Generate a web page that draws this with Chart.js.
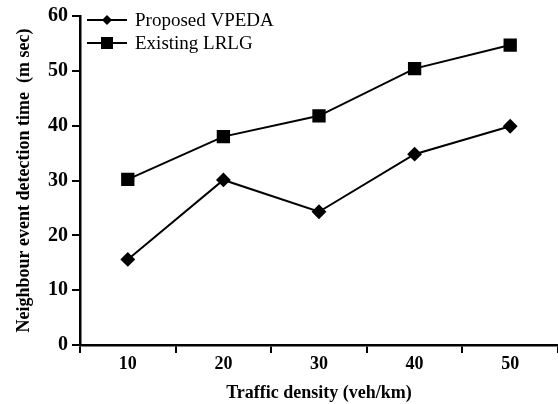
<!DOCTYPE html>
<html>
<head>
<meta charset="utf-8">
<script src="https://cdn.jsdelivr.net/npm/chart.js@4"></script>
<style>
  html, body { margin: 0; padding: 0; background: #fff; overflow: hidden; }
  #wrap { width: 558px; height: 404px; overflow: hidden; }
</style>
</head>
<body>
<div id="wrap"><canvas id="chart" width="568" height="404"></canvas></div>
<script>
const density = ["10", "20", "30", "40", "50"];
const proposedVPEDA = [15.6, 30.1, 24.3, 34.8, 39.9];
const existingLRLG = [30.2, 38.0, 41.8, 50.4, 54.7];
const yTicks = [0, 10, 20, 30, 40, 50, 60];

const serif = "'Liberation Serif', 'Times New Roman', serif";

// legend drawn as line + marker, like the original figure
const lineLegend = {
    id: "lineLegend",
    afterDraw(chart) {
        const ctx = chart.ctx;
        const left = chart.chartArea.left + 7;
        const top = chart.chartArea.top + 4;
        chart.data.datasets.forEach((ds, i) => {
            const y = top + i * 23;
            ctx.save();
            ctx.strokeStyle = "#000";
            ctx.lineWidth = 2;
            ctx.beginPath();
            ctx.moveTo(left, y);
            ctx.lineTo(left + 40, y);
            ctx.stroke();
            ctx.fillStyle = "#000";
            const cx = left + 20;
            if (ds.pointStyle === "rect") {
                ctx.fillRect(cx - 6, y - 6, 12, 12);
            } else {
                ctx.beginPath();
                ctx.moveTo(cx, y - 5);
                ctx.lineTo(cx + 5, y);
                ctx.lineTo(cx, y + 5);
                ctx.lineTo(cx - 5, y);
                ctx.closePath();
                ctx.fill();
            }
            ctx.font = "19px " + serif;
            ctx.textBaseline = "middle";
            ctx.fillText(ds.label, left + 48, y + 1);
            ctx.restore();
        });
    }
};

new Chart(document.getElementById("chart"), {
    type: "line",
    data: {
        labels: density,
        datasets: [
            {
                label: "Proposed VPEDA",
                data: proposedVPEDA,
                borderColor: "#000",
                backgroundColor: "#000",
                borderWidth: 2,
                pointStyle: "rectRot",
                pointRadius: 6,
                pointHoverRadius: 6,
                tension: 0
            },
            {
                label: "Existing LRLG",
                data: existingLRLG,
                borderColor: "#000",
                backgroundColor: "#000",
                borderWidth: 2,
                pointStyle: "rect",
                pointRadius: 8,
                pointHoverRadius: 8,
                tension: 0
            }
        ]
    },
    options: {
        responsive: false,
        animation: false,
        layout: { padding: { top: 13, right: 0, left: 0, bottom: 0 } },
        plugins: {
            legend: { display: false },
            tooltip: { enabled: false }
        },
        scales: {
            x: {
                type: "category",
                offset: true,
                grid: {
                    offset: true,
                    drawOnChartArea: false,
                    drawTicks: true,
                    tickLength: 8,
                    color: "#000",
                    lineWidth: 2
                },
                border: { color: "#000", width: 2.5 },
                ticks: {
                    color: "#000",
                    font: { family: serif, size: 18, weight: "bold" },
                    padding: 1,
                    maxRotation: 0
                },
                title: {
                    display: true,
                    text: "Traffic density (veh/km)",
                    color: "#000",
                    font: { family: serif, size: 18, weight: "bold" },
                    padding: { top: 4, bottom: 0 }
                },
                afterFit(scale) {
                    scale.height = 59;
                    scale.paddingLeft = 0;
                    scale.paddingRight = 0;
                }
            },
            y: {
                min: yTicks[0],
                max: yTicks[yTicks.length - 1],
                afterBuildTicks(scale) {
                    scale.ticks = yTicks.map(v => ({ value: v }));
                },
                grid: {
                    drawOnChartArea: false,
                    drawTicks: true,
                    tickLength: 8,
                    color: "#000",
                    lineWidth: 2
                },
                border: { color: "#000", width: 2.5 },
                ticks: {
                    color: "#000",
                    font: { family: serif, size: 20, weight: "bold" },
                    padding: 4
                },
                title: {
                    display: true,
                    text: "Neighbour event detection time  (m sec)",
                    color: "#000",
                    font: { family: serif, size: 18, weight: "bold" },
                    padding: { top: 14, bottom: 0 }
                },
                afterFit(scale) { scale.width = 80; }
            }
        }
    },
    plugins: [lineLegend]
});
</script>
</body>
</html>
